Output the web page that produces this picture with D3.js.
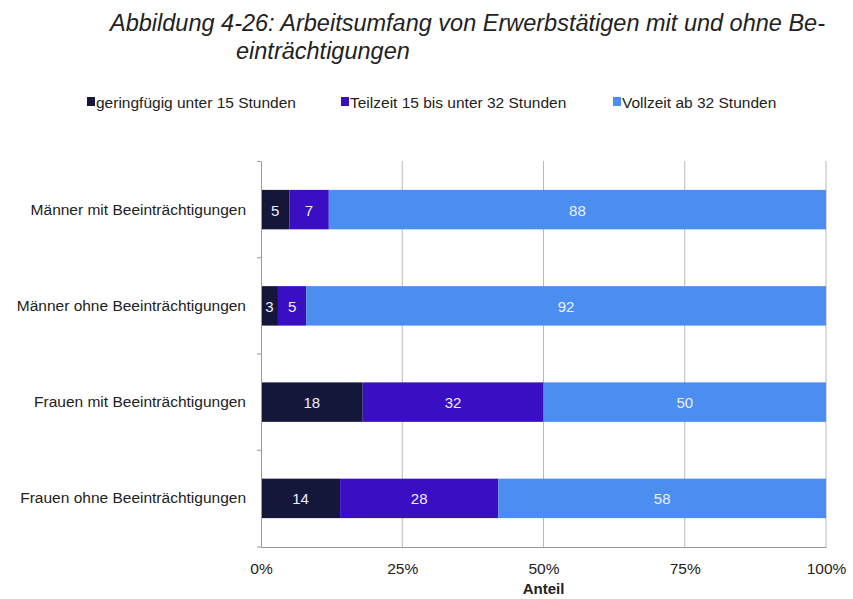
<!DOCTYPE html>
<html>
<head>
<meta charset="utf-8">
<script src="https://cdn.jsdelivr.net/npm/d3@7"></script>
<style>
  body { margin: 0; background: #fff; font-family: "Liberation Sans", Arial, sans-serif; }
  svg text { font-family: "Liberation Sans", Arial, sans-serif; }
</style>
</head>
<body>
<div class="chart"></div>
<script>
var categories = ["Männer mit Beeinträchtigungen", "Männer ohne Beeinträchtigungen",
    "Frauen mit Beeinträchtigungen", "Frauen ohne Beeinträchtigungen"];
var seriesNames = ["geringfügig unter 15 Stunden", "Teilzeit 15 bis unter 32 Stunden", "Vollzeit ab 32 Stunden"];
var geringfuegig = [5, 3, 18, 14];
var teilzeit = [7, 5, 32, 28];
var vollzeit = [88, 92, 50, 58];
var tickValues = [0, 25, 50, 75, 100];
var colors = ["#15173a", "#3a0fc4", "#4b8ef0"];

var width = 853, height = 599;
var margin = {top: 161, right: 27, bottom: 52, left: 261};

var svg = d3.select("div.chart").append("svg")
    .attr("width", width)
    .attr("height", height);

var rows = categories.map(function (c, i) {
    return {cat: c, g: geringfuegig[i], t: teilzeit[i], v: vollzeit[i]};
});
var stack = d3.stack().keys(["g", "t", "v"])(rows);

var x = d3.scaleLinear().domain([0, 100]).range([margin.left, width - margin.right]);
var y = d3.scaleBand().domain(categories)
    .range([margin.top, height - margin.bottom])
    .paddingInner(0.59).paddingOuter(0.3);

// title
var title = svg.append("text")
    .attr("x", 110).attr("y", 31)
    .style("font-size", "23.5px").style("font-style", "italic").attr("fill", "#222");
title.append("tspan").text("Abbildung 4-26: Arbeitsumfang von Erwerbstätigen mit und ohne Be-");
title.append("tspan").attr("x", 236).attr("dy", 28).text("einträchtigungen");

// legend
var legendX = [87, 341, 613];
var leg = svg.append("g").selectAll("g").data(seriesNames).enter().append("g")
    .attr("transform", function (d, i) { return "translate(" + legendX[i] + ",108)"; });
leg.append("rect").attr("x", 0).attr("y", -11).attr("width", 8).attr("height", 9)
    .attr("fill", function (d, i) { return colors[i]; });
leg.append("text").attr("x", 9).attr("y", 0)
    .style("font-size", "15.5px").attr("fill", "#222")
    .text(function (d) { return d; });

// grid
svg.append("g").selectAll("line").data(tickValues.slice(1)).enter().append("line")
    .attr("x1", function (d) { return x(d); }).attr("x2", function (d) { return x(d); })
    .attr("y1", margin.top).attr("y2", height - margin.bottom)
    .attr("stroke", "#b8b8b8").attr("stroke-width", 1);

// bars
var layer = svg.append("g").selectAll("g").data(stack).enter().append("g")
    .attr("fill", function (d, i) { return colors[i]; });
layer.selectAll("rect").data(function (d) { return d; }).enter().append("rect")
    .attr("x", function (d) { return x(d[0]); })
    .attr("y", function (d) { return y(d.data.cat); })
    .attr("width", function (d) { return x(d[1]) - x(d[0]); })
    .attr("height", y.bandwidth());

// value labels
layer.selectAll("text").data(function (d) { return d; }).enter().append("text")
    .attr("x", function (d) { return (x(d[0]) + x(d[1])) / 2; })
    .attr("y", function (d) { return y(d.data.cat) + y.bandwidth() / 2 + 6; })
    .attr("text-anchor", "middle")
    .style("font-size", "15px")
    .attr("fill", "#eeeeff")
    .text(function (d) { return d[1] - d[0]; });

// axes
var xAxis = d3.axisBottom(x).tickValues(tickValues)
    .tickFormat(function (d) { return d + "%"; }).tickSize(0).tickPadding(16);
var gx = svg.append("g")
    .attr("transform", "translate(0," + (height - margin.bottom) + ")")
    .call(xAxis);
gx.select(".domain").attr("stroke", "#999");
gx.selectAll("text").style("font-size", "15.5px").attr("fill", "#222");

var yAxis = d3.axisLeft(y).tickSize(0).tickPadding(15);
var gy = svg.append("g")
    .attr("transform", "translate(" + margin.left + ",0)")
    .call(yAxis);
gy.select(".domain").attr("stroke", "#999");
gy.selectAll("text").style("font-size", "15.5px").attr("fill", "#222");

// small tick marks on band boundaries
var bounds = categories.map(function (c) { return y(c) - y.step() * y.paddingInner() / 2; });
bounds.push(height - margin.bottom);
svg.append("g").selectAll("line").data(bounds).enter().append("line")
    .attr("x1", margin.left - 4).attr("x2", margin.left)
    .attr("y1", function (d) { return d; }).attr("y2", function (d) { return d; })
    .attr("stroke", "#999");

svg.append("text")
    .attr("x", x(50)).attr("y", 594)
    .attr("text-anchor", "middle")
    .style("font-size", "15px").style("font-weight", "bold").attr("fill", "#222")
    .text("Anteil");
</script>
</body>
</html>
